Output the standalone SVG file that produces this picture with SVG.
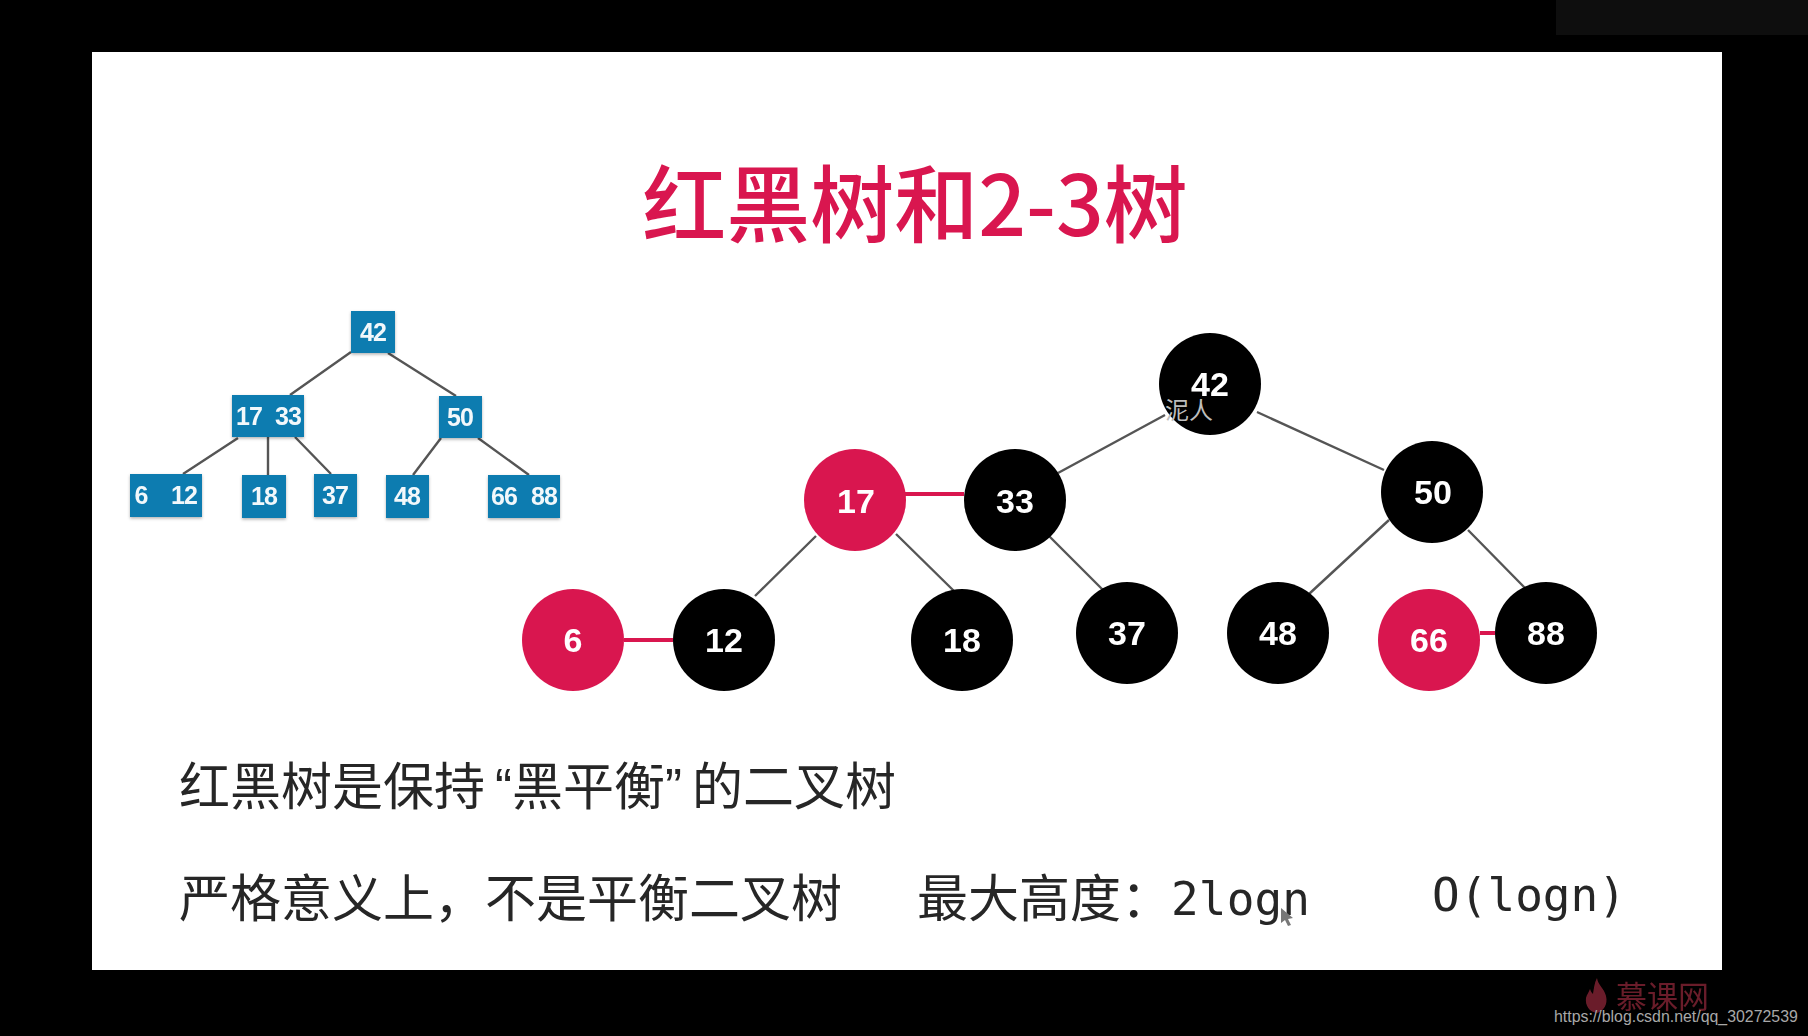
<svg xmlns="http://www.w3.org/2000/svg" width="1808" height="1036" viewBox="0 0 1808 1036">
<defs>
<style>
.sq{fill:#0f7bb0}
.st{font:bold 25px "Liberation Sans",Arial,sans-serif;fill:#f2f8fb;text-anchor:middle;letter-spacing:-1px}
.ct{font:bold 34px "Liberation Sans",Arial,sans-serif;fill:#fff;text-anchor:middle}
.blk{fill:#000}.red{fill:#d9174f}
.ln{stroke:#555;stroke-width:2.4;fill:none}
.rl{stroke:#d9174f;stroke-width:4;fill:none}
.cjk{font-family:"Noto Sans CJK SC","Liberation Sans",sans-serif;font-size:51px;fill:#262626}
.mono{font-family:"DejaVu Sans Mono","Liberation Mono",monospace;font-size:46px;fill:#262626}
</style>
<filter id="soft" x="-5%" y="-5%" width="110%" height="110%"><feGaussianBlur stdDeviation="0.7"/></filter>
<filter id="shadow" x="-20%" y="-20%" width="140%" height="140%"><feDropShadow dx="0" dy="1.5" stdDeviation="1.5" flood-color="#000" flood-opacity=".3"/></filter>
</defs>
<rect width="1808" height="1036" fill="#000"/>
<rect x="1556" y="0" width="252" height="35" fill="#0e0e0e"/>
<rect x="92" y="52" width="1630" height="918" fill="#fff"/>
<g filter="url(#soft)">
<text id="title" x="915" y="236" font-family="Noto Sans CJK SC,Liberation Sans,sans-serif" font-size="84" font-weight="500" fill="#d9174f" text-anchor="middle">红黑树和2-3树</text>
<g id="connectors">
<path class="ln" d="M351 352L290 395M388 353L456 396M238 438L183 474M268 437V475M295 437L331 474M441 438L413 475M478 438L529 475"/>
<path class="ln" d="M1165 415L1058 473M1257 412L1384 470M816 536L755 596M896 534L955 592M1049 536L1105 592M1389 520L1309 594M1468 530L1525 588"/>
<path class="rl" d="M905 494H964M624 640H673M1480 633H1495"/>
</g>
<g filter="url(#shadow)">
<g id="s42"><rect class="sq" x="351" y="311" width="44" height="42"/><text class="st" x="373" y="341">42</text></g>
<g id="s1733"><rect class="sq" x="232" y="395" width="72" height="42"/><text class="st" x="249" y="425">17</text><text class="st" x="288" y="425">33</text></g>
<g id="s50"><rect class="sq" x="439" y="396" width="43" height="42"/><text class="st" x="460" y="426">50</text></g>
<g id="s612"><rect class="sq" x="130" y="474" width="72" height="43"/><text class="st" x="141" y="504">6</text><text class="st" x="184" y="504">12</text></g>
<g id="s18"><rect class="sq" x="242" y="475" width="44" height="43"/><text class="st" x="264" y="505">18</text></g>
<g id="s37"><rect class="sq" x="314" y="474" width="43" height="43"/><text class="st" x="335" y="504">37</text></g>
<g id="s48"><rect class="sq" x="386" y="475" width="43" height="43"/><text class="st" x="407" y="505">48</text></g>
<g id="s6688"><rect class="sq" x="488" y="475" width="72" height="43"/><text class="st" x="504" y="505">66</text><text class="st" x="544" y="505">88</text></g>
</g>
<g id="c42"><circle class="blk" cx="1210" cy="384" r="51"/><text class="ct" x="1210" y="396">42</text></g>
<g id="c17"><circle class="red" cx="855" cy="500" r="51"/><text class="ct" x="856" y="513">17</text></g>
<g id="c33"><circle class="blk" cx="1015" cy="500" r="51"/><text class="ct" x="1015" y="513">33</text></g>
<g id="c50"><circle class="blk" cx="1432" cy="492" r="51"/><text class="ct" x="1433" y="504">50</text></g>
<g id="c6"><circle class="red" cx="573" cy="640" r="51"/><text class="ct" x="573" y="652">6</text></g>
<g id="c12"><circle class="blk" cx="724" cy="640" r="51"/><text class="ct" x="724" y="652">12</text></g>
<g id="c18"><circle class="blk" cx="962" cy="640" r="51"/><text class="ct" x="962" y="652">18</text></g>
<g id="c37"><circle class="blk" cx="1127" cy="633" r="51"/><text class="ct" x="1127" y="645">37</text></g>
<g id="c48"><circle class="blk" cx="1278" cy="633" r="51"/><text class="ct" x="1278" y="645">48</text></g>
<g id="c66"><circle class="red" cx="1429" cy="640" r="51"/><text class="ct" x="1429" y="652">66</text></g>
<g id="c88"><circle class="blk" cx="1546" cy="633" r="51"/><text class="ct" x="1546" y="645">88</text></g>
<text id="line1" class="cjk" x="179" y="805">红黑树是保持<tspan dx="10" font-family="Liberation Sans,sans-serif">“</tspan>黑平衡<tspan font-family="Liberation Sans,sans-serif">”</tspan><tspan dx="10">的二叉树</tspan></text>
<text id="line2" class="cjk" x="179" y="917">严格意义上，不是平衡二叉树</text>
<text id="line3" class="cjk" x="917" y="917">最大高度：</text>
<text class="mono" x="1171" y="915" textLength="139">2logn</text>
<text class="mono" x="1432" y="911" textLength="194">O(logn)</text>
<path d="M1281 908l0 15 4-3 3 6 3-1-3-6 5-1z" fill="#777"/>
<path id="flame" d="M1597 978c1 7 7 10 9 18 2 8-2 15-9 17-8-1-12-8-11-15 1-4 3-6 4-9 1 3 2 4 3 5 1-5 1-10 4-16z" fill="#6b1f2a"/>
<text x="1616" y="1008" font-family="Noto Sans CJK SC,sans-serif" font-size="31" fill="#6b1f2a">慕课网</text>
</g>
<text x="1165" y="419" font-family="Noto Sans CJK SC,sans-serif" font-size="24" fill="#bdbdbd">泥人</text>
<text x="1554" y="1022" font-family="Liberation Sans,Arial,sans-serif" font-size="15.9" fill="#a8a8a8">https://blog.csdn.net/qq_30272539</text>
</svg>
